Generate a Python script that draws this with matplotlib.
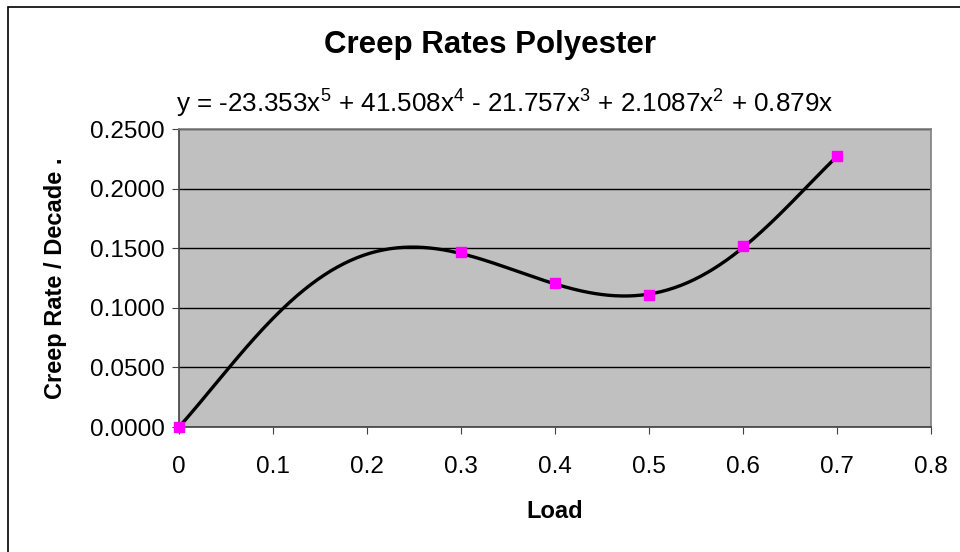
import numpy as np
import matplotlib.pyplot as plt
from matplotlib.patches import Rectangle

plt.rcParams['font.family'] = ['Liberation Sans', 'DejaVu Sans']
plt.rcParams['mathtext.fontset'] = 'custom'
plt.rcParams['mathtext.rm'] = 'Liberation Sans'

# measured points
load = [0.0, 0.3, 0.4, 0.5, 0.6, 0.7]
creep_rate = [0.0, 0.147, 0.121, 0.111, 0.152, 0.227]

# trendline coefficients as printed on the chart (x^5 ... x^1, no intercept)
coef = [-23.353, 41.508, -21.757, 2.1087, 0.879, 0.0]

x_ticks = [0, 0.1, 0.2, 0.3, 0.4, 0.5, 0.6, 0.7, 0.8]
y_ticks = [0.0, 0.05, 0.10, 0.15, 0.20, 0.25]

fig = plt.figure(figsize=(9.6, 5.52), dpi=100)
fig.patches.append(Rectangle((8 / 960, -0.1), 1.2, 1 - 7 / 552 + 0.1,
                             transform=fig.transFigure, fill=False,
                             edgecolor='black', linewidth=1.2))

ax = fig.add_axes([179 / 960, 1 - 427 / 552, (931 - 179) / 960, (427 - 129) / 552])
ax.set_facecolor('#c0c0c0')

xs = np.linspace(0, max(load), 300)
ax.plot(xs, np.polyval(coef, xs), color='black', linewidth=2.4, zorder=3)
ax.scatter(load, creep_rate, marker='s', s=60, color='#ff00ff', zorder=4, clip_on=False)

ax.set_xlim(0, 0.8)
ax.set_ylim(0, 0.25)
ax.set_xticks(x_ticks)
ax.set_xticklabels(['0'] + ['%.1f' % t for t in x_ticks[1:]])
ax.set_yticks(y_ticks)
ax.set_yticklabels(['%.4f' % t for t in y_ticks])
ax.yaxis.grid(True, color='black', linewidth=1)
ax.set_axisbelow(True)
ax.tick_params(labelsize=17.5, direction='out', length=5, color='#404040', pad=5)
ax.tick_params(axis='x', pad=16)

for side in ['left', 'bottom']:
    ax.spines[side].set_color('#404040')
    ax.spines[side].set_linewidth(1.2)
for side in ['top', 'right']:
    ax.spines[side].set_color('#808080')
    ax.spines[side].set_linewidth(1.2)

ax.set_xlabel('Load', fontsize=17, fontweight='bold', labelpad=16)
ax.set_ylabel('Creep Rate / Decade .', fontsize=17, fontweight='bold', labelpad=17)

fig.text(490 / 960, 1 - 45 / 552, 'Creep Rates Polyester', ha='center', va='center',
         fontsize=22.5, fontweight='bold')
fig.text(505 / 960, 1 - 103 / 552,
         r'y = -23.353x$^5$ + 41.508x$^4$ - 21.757x$^3$ + 2.1087x$^2$ + 0.879x',
         ha='center', va='center', fontsize=18.7)

fig.savefig('out.png', dpi=100)
